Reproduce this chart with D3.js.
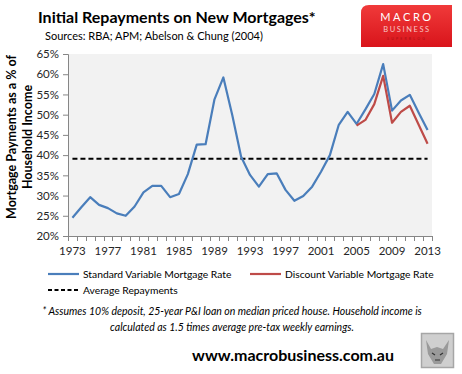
<!DOCTYPE html>
<html>
<head>
<meta charset="utf-8">
<script src="https://cdn.jsdelivr.net/npm/d3@7.9.0/dist/d3.min.js"></script>
<style>
  html, body { margin: 0; padding: 0; background: #fff; }
  svg { display: block; }
  text { font-family: Lato, "Open Sans", sans-serif; }
</style>
</head>
<body>
<svg id="chart" width="462" height="374"></svg>
<script>
// ── Data ──────────────────────────────────────────────────────────────────
var years = d3.range(1973, 2014);
var standardRate = [
  24.5, 27.1, 29.6, 27.7, 26.9, 25.6, 25.0, 27.3, 30.8, 32.4,
  32.4, 29.6, 30.4, 35.3, 42.6, 42.7, 53.8, 59.2, 49.9, 39.6,
  35.1, 32.2, 35.3, 35.5, 31.4, 28.7, 29.9, 32.2, 35.9, 40.0,
  47.5, 50.7, 47.7, 51.3, 55.1, 62.5, 51.0, 53.5, 54.9, 50.5,
  46.2
];
var discountYears = d3.range(2005, 2014);
var discountRate = [47.3, 48.7, 52.6, 59.6, 48.0, 50.7, 52.2, 47.5, 42.8];
var averageRepayment = 39.1;
var yTicks = [20, 25, 30, 35, 40, 45, 50, 55, 60, 65];
var xLabelYears = [1973, 1977, 1981, 1985, 1989, 1993, 1997, 2001, 2005, 2009, 2013];

// ── Layout ────────────────────────────────────────────────────────────────
var L = 68, R = 432, T = 54, B = 236;
var BLUE = "#4a7ebb", RED = "#be4b48";

var svg = d3.select("#chart");

var x = d3.scaleBand().domain(years).range([L, R]);
var y = d3.scaleLinear().domain([20, 65]).range([B, T]);
var cx = function (yr) { return x(yr) + x.bandwidth() / 2; };

// plot background
svg.append("rect")
  .attr("x", L).attr("y", T)
  .attr("width", R - L).attr("height", B - T)
  .attr("fill", "#f2f2f2");

// ── Axes ──────────────────────────────────────────────────────────────────
var yAxis = svg.append("g")
  .attr("transform", "translate(" + L + ",0)")
  .call(d3.axisLeft(y).tickValues(yTicks).tickSize(5).tickPadding(4)
    .tickFormat(function (d) { return d + "%"; }));
yAxis.select(".domain").attr("stroke", "#868686");
yAxis.selectAll(".tick line").attr("stroke", "#868686");
yAxis.selectAll("text")
  .attr("font-family", "Lato, sans-serif")
  .attr("font-size", "11.5px")
  .attr("fill", "#262626");

var xAxis = svg.append("g")
  .attr("transform", "translate(0," + B + ")")
  .call(d3.axisBottom(x).tickValues(xLabelYears).tickSize(0).tickPadding(11).tickSizeOuter(0));
xAxis.select(".domain").remove();
xAxis.selectAll(".tick line").remove();
xAxis.selectAll("text")
  .attr("font-family", "Lato, sans-serif")
  .attr("font-size", "11.5px")
  .attr("fill", "#262626");

// x axis line + category boundary ticks
var bounds = years.map(function (yr) { return x(yr); }).concat([R]);
svg.append("line")
  .attr("x1", L).attr("x2", R).attr("y1", B + 0.5).attr("y2", B + 0.5)
  .attr("stroke", "#868686");
svg.append("g").selectAll("line").data(bounds).join("line")
  .attr("x1", function (d) { return Math.round(d) + 0.5; })
  .attr("x2", function (d) { return Math.round(d) + 0.5; })
  .attr("y1", B).attr("y2", B + 5)
  .attr("stroke", "#868686");

// ── Series ────────────────────────────────────────────────────────────────
var line = d3.line()
  .x(function (d) { return cx(d[0]); })
  .y(function (d) { return y(d[1]); });

svg.append("path")
  .datum(years.map(function (yr) { return [yr, averageRepayment]; }))
  .attr("d", line)
  .attr("fill", "none")
  .attr("stroke", "#000")
  .attr("stroke-width", 2.2)
  .attr("stroke-dasharray", "5,3");

svg.append("path")
  .datum(years.map(function (yr, i) { return [yr, standardRate[i]]; }))
  .attr("d", line)
  .attr("fill", "none")
  .attr("stroke", BLUE)
  .attr("stroke-width", 2.2)
  .attr("stroke-linejoin", "round");

svg.append("path")
  .datum(discountYears.map(function (yr, i) { return [yr, discountRate[i]]; }))
  .attr("d", line)
  .attr("fill", "none")
  .attr("stroke", RED)
  .attr("stroke-width", 2.2)
  .attr("stroke-linejoin", "round");

// ── Titles ────────────────────────────────────────────────────────────────
svg.append("text")
  .attr("x", 38).attr("y", 23)
  .attr("font-size", "16px").attr("font-weight", "bold").attr("fill", "#000")
  .text("Initial Repayments on New Mortgages*");

svg.append("text")
  .attr("x", 45).attr("y", 40)
  .attr("font-size", "11px").attr("fill", "#000")
  .text("Sources: RBA; APM; Abelson & Chung (2004)");

// y axis title (two lines)
var yt = svg.append("g").attr("transform", "translate(0,137) rotate(-90)");
yt.append("text")
  .attr("x", 0).attr("y", 16)
  .attr("text-anchor", "middle")
  .attr("font-size", "12.5px").attr("font-weight", "bold")
  .text("Mortgage Payments as a % of");
yt.append("text")
  .attr("x", 0).attr("y", 32)
  .attr("text-anchor", "middle")
  .attr("font-size", "12.5px").attr("font-weight", "bold")
  .text("Household Income");

// ── Legend ────────────────────────────────────────────────────────────────
var legend = [
  { label: "Standard Variable Mortgage Rate", color: BLUE, dash: null, x: 48, y: 274 },
  { label: "Discount Variable Mortgage Rate", color: RED, dash: null, x: 250, y: 274 },
  { label: "Average Repayments", color: "#000", dash: "4,2.5", x: 48, y: 290 }
];
var lg = svg.append("g").selectAll("g").data(legend).join("g")
  .attr("transform", function (d) { return "translate(" + d.x + "," + d.y + ")"; });
lg.append("line")
  .attr("x1", 0).attr("x2", 31).attr("y1", 0).attr("y2", 0)
  .attr("stroke", function (d) { return d.color; })
  .attr("stroke-width", 2.2)
  .attr("stroke-dasharray", function (d) { return d.dash; });
lg.append("text")
  .attr("x", 35).attr("y", 4)
  .attr("font-size", "10.3px").attr("fill", "#000")
  .text(function (d) { return d.label; });

// ── Footnote ──────────────────────────────────────────────────────────────
svg.append("text")
  .attr("x", 232).attr("y", 315)
  .attr("text-anchor", "middle")
  .attr("font-size", "10.5px").attr("font-style", "italic")
  .text("* Assumes 10% deposit, 25-year P&I loan on median priced house. Household income is");
svg.append("text")
  .attr("x", 232).attr("y", 331)
  .attr("text-anchor", "middle")
  .attr("font-size", "10.5px").attr("font-style", "italic")
  .text("calculated as 1.5 times average pre-tax weekly earnings.");

svg.append("text")
  .attr("x", 293).attr("y", 361)
  .attr("text-anchor", "middle")
  .attr("font-size", "16px").attr("font-weight", "bold")
  .text("www.macrobusiness.com.au");

// ── Logo (top right) ──────────────────────────────────────────────────────
var grad = svg.append("defs").append("linearGradient")
  .attr("id", "logoRed").attr("x1", 0).attr("y1", 0).attr("x2", 0).attr("y2", 1);
grad.append("stop").attr("offset", "0%").attr("stop-color", "#f03a3a");
grad.append("stop").attr("offset", "100%").attr("stop-color", "#d9141b");
svg.append("path")
  .attr("d", "M361,13 Q361,5 369,5 L452,5 L452,47 L361,47 Z")
  .attr("fill", "url(#logoRed)");
svg.append("text")
  .attr("x", 407).attr("y", 21)
  .attr("text-anchor", "middle")
  .attr("font-family", "DejaVu Sans, sans-serif")
  .attr("font-size", "11px").attr("letter-spacing", "2.6px")
  .attr("fill", "#fff")
  .text("MACRO");
svg.append("text")
  .attr("x", 407).attr("y", 32)
  .attr("text-anchor", "middle")
  .attr("font-family", "DejaVu Sans, sans-serif")
  .attr("font-size", "7.5px").attr("letter-spacing", "1.6px")
  .attr("fill", "#f7c4c4")
  .text("BUSINESS");
svg.append("text")
  .attr("x", 407).attr("y", 40)
  .attr("text-anchor", "middle")
  .attr("font-family", "DejaVu Sans, sans-serif")
  .attr("font-size", "3.5px").attr("letter-spacing", "2.2px")
  .attr("fill", "#a80f14")
  .text("SUPERBLOG");

// ── Wolf badge (bottom right) ─────────────────────────────────────────────
svg.append("rect")
  .attr("x", 421.5).attr("y", 333.5).attr("width", 32).attr("height", 34)
  .attr("fill", "#cfcfcf").attr("stroke", "#a6a6a6").attr("stroke-width", 1.5);
svg.append("path")
  .attr("d", "M426,340 L431,349 L437,347 L443,349 L449,340 L447,354 L441,364 L434,364 L428,354 Z")
  .attr("fill", "#8c8c8c").attr("opacity", 0.8);
svg.append("path")
  .attr("d", "M432,353 L435,355 M443,353 L440,355 M435,360 L440,360")
  .attr("stroke", "#333").attr("stroke-width", 1.2);
</script>
</body>
</html>
